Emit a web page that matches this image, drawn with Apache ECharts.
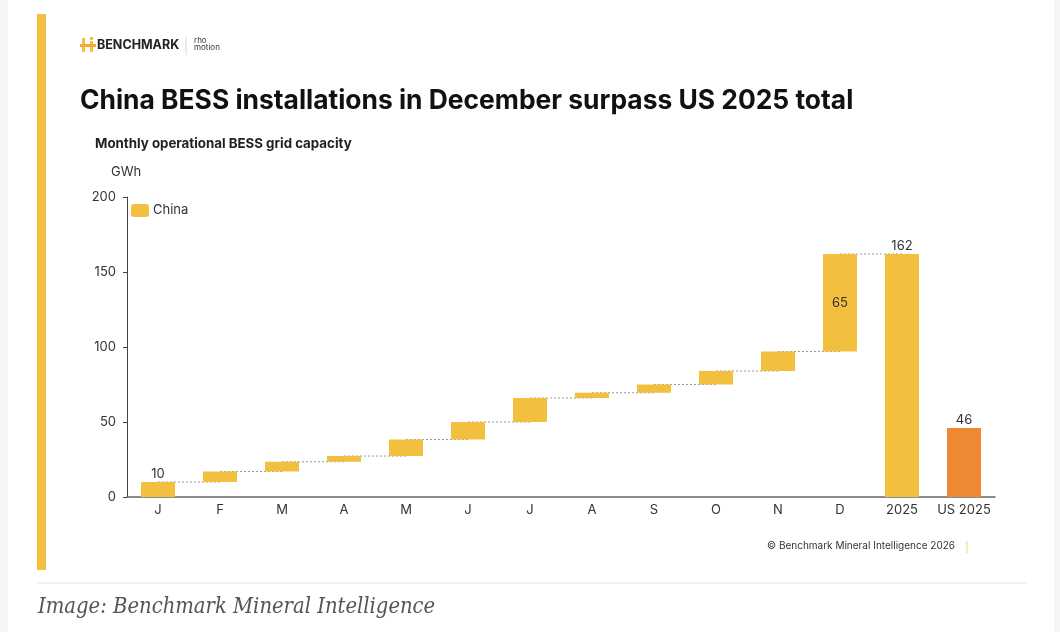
<!DOCTYPE html>
<html>
<head>
<meta charset="utf-8">
<script src="https://cdn.jsdelivr.net/npm/echarts@6/dist/echarts.min.js"></script>
<style>
  html, body { margin: 0; padding: 0; background: #fff; }
  #chart { width: 1060px; height: 632px; }
</style>
</head>
<body>
<div id="chart"></div>
<script>
// data (GWh)
var categories = ['J', 'F', 'M', 'A', 'M', 'J', 'J', 'A', 'S', 'O', 'N', 'D', '2025', 'US 2025'];
var chinaMonthly = [10, 7, 6.5, 3.8, 11, 11.7, 16, 3.5, 5.5, 9, 13, 65];
var chinaTotal = 162;
var usTotal = 46;
var yTicks = { min: 0, max: 200, interval: 50 };

var yellow = '#F2BF3F';
var orange = '#EE8833';
var font = 'Inter, "Noto Sans", sans-serif';

// waterfall: invisible base + visible step
var base = [], steps = [], cum = [], run = 0;
chinaMonthly.forEach(function (v) {
    base.push(run);
    run += v;
    cum.push(run);
    steps.push(v);
});
base.push(0, 0);

var labelTop = { show: true, position: 'top', distance: 1, color: '#333', fontSize: 13, fontFamily: font };
var stepData = steps.map(function (v, i) {
    var d = { value: v };
    if (i === 0) d.label = labelTop;
    if (i === 11) d.label = { show: true, position: 'inside', color: '#333', fontSize: 13, fontFamily: font };
    return d;
});
stepData.push({ value: chinaTotal, label: labelTop });
stepData.push({ value: usTotal, label: labelTop, itemStyle: { color: orange } });

// connector lines between bar tops
var connectors = cum.map(function (v, i) { return [i, v]; });

var chart = echarts.init(document.getElementById('chart'), null, { renderer: 'canvas' });

chart.setOption({
    animation: false,
    backgroundColor: '#fff',
    textStyle: { fontFamily: font },
    grid: { left: 127, right: 65, top: 197, bottom: 135 },
    legend: {
        left: 126, top: 199,
        itemWidth: 18, itemHeight: 13, itemGap: 10,
        data: ['China'],
        textStyle: { color: '#333', fontSize: 13, fontFamily: font, padding: [0, 0, 0, -1] }
    },
    xAxis: {
        type: 'category',
        data: categories,
        axisLine: { lineStyle: { color: '#666', width: 1.5 } },
        axisTick: { show: false },
        axisLabel: { color: '#333', fontSize: 13, margin: 7, interval: 0, fontFamily: font }
    },
    yAxis: {
        type: 'value',
        min: yTicks.min, max: yTicks.max, interval: yTicks.interval,
        splitLine: { show: false },
        axisLine: { show: true, lineStyle: { color: '#444', width: 1 } },
        axisTick: { show: true, length: 4, lineStyle: { color: '#444' } },
        axisLabel: { color: '#333', fontSize: 13, margin: 11, fontFamily: font }
    },
    series: [
        {
            type: 'custom',
            name: 'conn',
            z: 1,
            silent: true,
            renderItem: function (params, api) {
                var p1 = api.coord([api.value(0), api.value(1)]);
                var p2 = api.coord([api.value(0) + 1, api.value(1)]);
                return {
                    type: 'line',
                    shape: { x1: p1[0], y1: p1[1], x2: p2[0], y2: p2[1] },
                    style: { stroke: '#999', lineWidth: 1, lineDash: [2, 2] }
                };
            },
            data: connectors
        },
        {
            type: 'bar', name: 'base', stack: 'w', z: 2, silent: true,
            barWidth: 34,
            itemStyle: { color: 'transparent' },
            data: base
        },
        {
            type: 'bar', name: 'China', stack: 'w', z: 2,
            barWidth: 34,
            itemStyle: { color: yellow },
            data: stepData
        }
    ],
    graphic: [
        { type: 'rect', left: 0, top: 0, shape: { width: 8, height: 632 }, style: { fill: '#f5f5f5' } },
        { type: 'rect', left: 1054, top: 0, shape: { width: 6, height: 632 }, style: { fill: '#f5f5f5' } },
        { type: 'rect', left: 37, top: 14, shape: { width: 9, height: 556 }, style: { fill: yellow } },
        { type: 'line', shape: { x1: 37, y1: 583, x2: 1027, y2: 583 }, style: { stroke: '#dde0e0', lineWidth: 1 } },
        // logo
        { type: 'rect', left: 82, top: 38, shape: { width: 3, height: 14 }, style: { fill: yellow } },
        { type: 'rect', left: 90, top: 41, shape: { width: 3, height: 11 }, style: { fill: yellow } },
        { type: 'rect', left: 80, top: 44, shape: { width: 16, height: 3 }, style: { fill: '#f3a93a' } },
        { type: 'circle', shape: { cx: 91.5, cy: 38.5, r: 1.8 }, style: { fill: yellow } },
        { type: 'text', left: 97, top: 39, style: { text: 'BENCHMARK', font: 'bold 12.5px ' + font, fill: '#222' } },
        { type: 'line', shape: { x1: 186, y1: 37, x2: 186, y2: 55 }, style: { stroke: '#e3d7b5', lineWidth: 1 } },
        { type: 'text', left: 194, top: 37, style: { text: 'rho\nmotion', font: '8px ' + font, fill: '#333', lineHeight: 7 } },
        // titles
        { type: 'text', left: 80, top: 88, style: { text: 'China BESS installations in December surpass US 2025 total', font: 'bold 26.4px ' + font, fill: '#111' } },
        { type: 'text', left: 95, top: 137, style: { text: 'Monthly operational BESS grid capacity', font: 'bold 13.3px ' + font, fill: '#222' } },
        { type: 'text', left: 111, top: 166, style: { text: 'GWh', font: '13px ' + font, fill: '#333' } },
        // footer
        { type: 'text', right: 105, top: 541, style: { text: '\u00a9 Benchmark Mineral Intelligence 2026', font: '10px ' + font, fill: '#333' } },
        { type: 'line', shape: { x1: 967, y1: 541, x2: 967, y2: 553 }, style: { stroke: '#f2d27a', lineWidth: 1 } },
        { type: 'text', left: 38, top: 596, style: { text: 'Image: Benchmark Mineral Intelligence', font: 'italic 21.8px "DejaVu Serif Condensed", "Liberation Serif", serif', fill: '#555' } }
    ]
});
</script>
</body>
</html>
